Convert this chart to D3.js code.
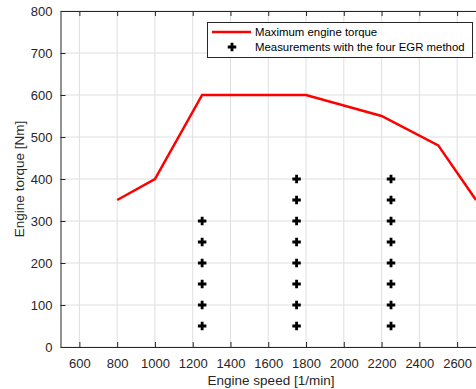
<!DOCTYPE html>
<html>
<head>
<meta charset="utf-8">
<script src="https://cdn.jsdelivr.net/npm/d3@7"></script>
<style>
  body { margin: 0; background: #fff; }
  svg { display: block; font-family: "Liberation Sans", Arial, sans-serif; }
</style>
</head>
<body>
<svg id="chart" width="476" height="389"></svg>
<script>
// Maximum engine torque curve
const torqueSpeed = [800, 1000, 1250, 1800, 2200, 2500, 2700];
const torqueMax = [350, 400, 600, 600, 550, 480, 350];

// Measurement points (speed, torque)
const measSpeed = [1250, 1250, 1250, 1250, 1250, 1250,
                   1750, 1750, 1750, 1750, 1750, 1750, 1750, 1750,
                   2250, 2250, 2250, 2250, 2250, 2250, 2250, 2250];
const measTorque = [50, 100, 150, 200, 250, 300,
                    50, 100, 150, 200, 250, 300, 350, 400,
                    50, 100, 150, 200, 250, 300, 350, 400];

const xTicks = [600, 800, 1000, 1200, 1400, 1600, 1800, 2000, 2200, 2400, 2600];
const yTicks = [0, 100, 200, 300, 400, 500, 600, 700, 800];
const legendLabels = ["Maximum engine torque", "Measurements with the four EGR method"];

const margin = { top: 11, right: 0, bottom: 42, left: 60.5 };
const width = 476, height = 389;

const svg = d3.select("#chart");

const x = d3.scaleLinear().domain([500, 2700]).range([margin.left, width - margin.right]);
const y = d3.scaleLinear().domain([0, 800]).range([height - margin.bottom, margin.top]);

// Grid
const grid = svg.append("g");
grid.selectAll(".gx").data(xTicks).enter().append("line")
    .attr("x1", d => x(d)).attr("x2", d => x(d))
    .attr("y1", y(0)).attr("y2", y(800))
    .attr("stroke", "#dfdfdf").attr("stroke-width", 1);
grid.selectAll(".gy").data(yTicks).enter().append("line")
    .attr("x1", x(500)).attr("x2", x(2700))
    .attr("y1", d => y(d)).attr("y2", d => y(d))
    .attr("stroke", "#dfdfdf").attr("stroke-width", 1);

// Axes with inward ticks
const axisColor = "#262626";
const fmt = d3.format("d");
const xAxis = svg.append("g")
    .attr("transform", `translate(0,${y(0)})`)
    .call(d3.axisBottom(x).tickValues(xTicks).tickFormat(fmt).tickSizeInner(-5).tickSizeOuter(0).tickPadding(12));
const xTop = svg.append("g")
    .attr("transform", `translate(0,${y(800)})`)
    .call(d3.axisTop(x).tickValues(xTicks).tickSizeInner(-5).tickSizeOuter(0).tickFormat(""));
const yAxis = svg.append("g")
    .attr("transform", `translate(${x(500)},0)`)
    .call(d3.axisLeft(y).tickValues(yTicks).tickFormat(fmt).tickSizeInner(-5).tickSizeOuter(0).tickPadding(8));

[xAxis, xTop, yAxis].forEach(g => {
    g.select(".domain").attr("stroke", axisColor).attr("stroke-width", 1);
    g.selectAll(".tick line").attr("stroke", axisColor);
    g.selectAll("text").attr("fill", axisColor).style("font-size", "13px")
        .style("font-family", "'Liberation Sans', Arial, sans-serif");
});

// Clip region
svg.append("clipPath").attr("id", "clip").append("rect")
    .attr("x", x(500)).attr("y", y(800))
    .attr("width", x(2700) - x(500)).attr("height", y(0) - y(800));

// Red torque line
const lineData = torqueSpeed.map((s, i) => [s, torqueMax[i]]);
svg.append("path")
    .datum(lineData)
    .attr("clip-path", "url(#clip)")
    .attr("fill", "none")
    .attr("stroke", "#ff0000")
    .attr("stroke-width", 2.5)
    .attr("d", d3.line().x(d => x(d[0])).y(d => y(d[1])));

// Plus markers
const plus = d3.symbol().type(d3.symbolCross).size(40);
svg.selectAll(".meas").data(measSpeed).enter().append("path")
    .attr("class", "meas")
    .attr("transform", (d, i) => `translate(${x(d)},${y(measTorque[i])})`)
    .attr("d", plus)
    .attr("fill", "#000");

// Axis labels
svg.append("text")
    .attr("x", 271).attr("y", 385)
    .attr("text-anchor", "middle")
    .attr("fill", axisColor)
    .style("font-size", "13.5px")
    .text("Engine speed [1/min]");
svg.append("text")
    .attr("transform", `translate(24,${(y(0) + y(800)) / 2}) rotate(-90)`)
    .attr("text-anchor", "middle")
    .attr("fill", axisColor)
    .style("font-size", "13.5px")
    .text("Engine torque [Nm]");

// Legend
const lg = svg.append("g");
lg.append("rect")
    .attr("x", 207.5).attr("y", 22.5)
    .attr("width", 265).attr("height", 35)
    .attr("fill", "#fff").attr("stroke", axisColor).attr("stroke-width", 1);
lg.append("line")
    .attr("x1", 212).attr("x2", 251).attr("y1", 32).attr("y2", 32)
    .attr("stroke", "#ff0000").attr("stroke-width", 2.5);
lg.append("path")
    .attr("transform", "translate(232,47)")
    .attr("d", plus).attr("fill", "#000");
lg.selectAll(".lt").data(legendLabels).enter().append("text")
    .attr("x", 255).attr("y", (d, i) => 36 + i * 15)
    .attr("fill", "#000")
    .style("font-size", "11.4px")
    .text(d => d);
</script>
</body>
</html>
